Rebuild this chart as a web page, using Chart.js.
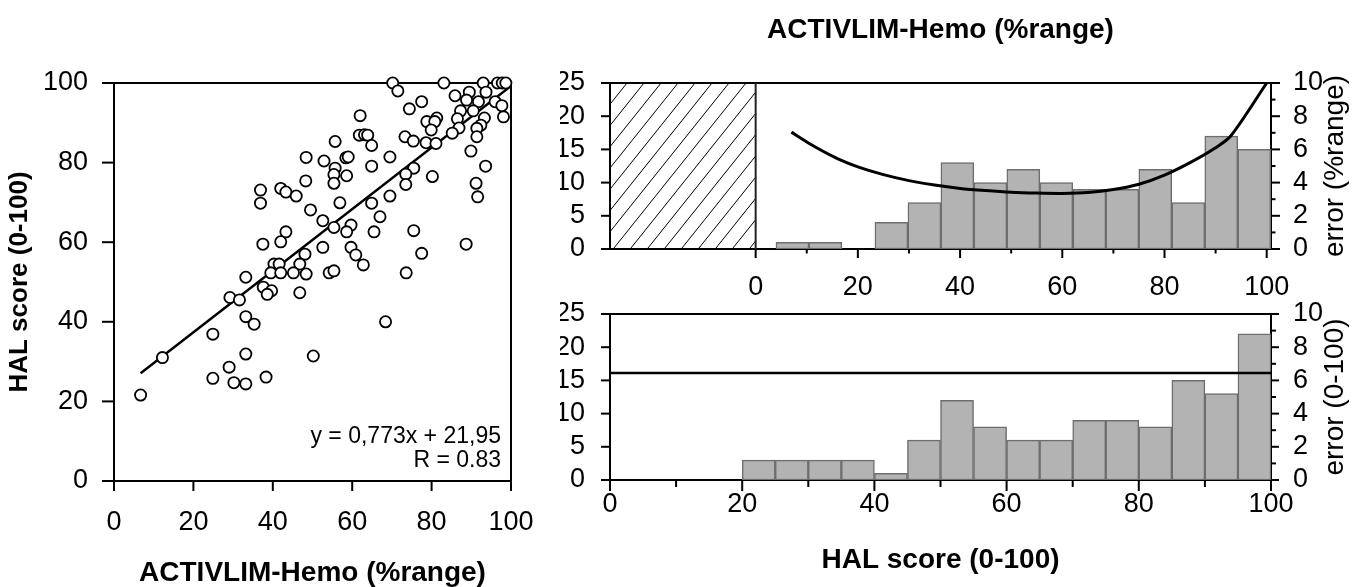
<!DOCTYPE html>
<html>
<head>
<meta charset="utf-8">
<script src="https://cdn.jsdelivr.net/npm/chart.js@4.4.1/dist/chart.umd.min.js"></script>
<style>
html, body {margin: 0; padding: 0; background: #fff; overflow: hidden;}
#wrap {position: relative; width: 1357px; height: 587px;}
canvas {position: absolute; top: 0;}
#scatter {left: 0;}
#histTop, #histBottom {left: 560px;}
</style>
</head>
<body>
<div id="wrap">
  <canvas id="scatter" width="560" height="587"></canvas>
  <canvas id="histBottom" width="797" height="587"></canvas>
  <canvas id="histTop" width="797" height="587"></canvas>
</div>
<script>
//scatter: one point per patient, ACTIVLIM-Hemo (%range) against HAL score (0-100)
const activlim = [
  70.2, 71.5, 83.1, 93.0, 96.6, 97.8, 98.7,
  77.5, 74.4, 85.9, 89.5, 93.7, 88.8, 91.8, 96.0, 97.7, 98.1, 87.3, 90.5, 86.5, 93.3, 81.3, 78.8, 80.8,
  79.9, 92.4, 91.4, 91.4, 86.9, 85.2, 89.9, 93.6, 91.2, 91.6, 88.7,
  62.0, 61.8, 63.1, 63.9, 64.9, 73.3, 75.4, 78.6, 81.1, 55.7, 52.9, 55.7, 55.4, 55.4, 58.4, 59.0, 58.6,
  64.9, 69.5, 75.5, 73.5, 73.5, 80.2, 69.5, 64.9, 56.9, 67.0, 52.6, 55.4, 59.7, 58.6, 65.5, 75.5, 52.6,
  59.7, 60.9, 77.5, 62.8, 73.6, 54.2, 55.4, 68.4,
  48.4, 48.3, 36.9, 36.9, 42.0, 43.3, 45.9, 49.5, 43.3, 42.0, 37.5, 48.1, 40.3, 41.6, 46.8, 39.5, 42.0,
  45.2, 48.4, 33.2, 37.6, 39.7, 38.6, 46.8, 29.2, 31.6, 33.2, 35.3, 24.9, 12.2, 33.2, 50.2, 29.0, 24.9,
  30.2, 33.2, 38.3, 6.7
]
const halScore = [
  100, 98.0, 100, 100, 100, 100, 100,
  95.3, 93.5, 96.8, 97.7, 97.7, 95.7, 95.3, 95.3, 94.3, 91.5, 93.0, 93.0, 91.0, 91.2, 91.2, 90.3, 90.3,
  88.2, 89.4, 88.6, 86.5, 88.7, 87.4, 82.9, 79.1, 74.8, 71.4, 59.5,
  91.8, 86.9, 87.0, 86.9, 84.3, 86.5, 85.4, 85.0, 84.8, 85.3, 80.4, 78.6, 77.0, 74.8, 81.2, 81.4, 76.7,
  79.1, 81.4, 78.6, 77.1, 74.5, 76.5, 71.6, 69.8, 69.9, 66.4, 65.4, 63.7, 64.3, 62.6, 62.6, 62.9, 58.7,
  58.7, 56.8, 57.2, 54.3, 52.3, 52.3, 52.8, 40.0,
  81.3, 75.4, 73.1, 69.8, 73.5, 72.6, 71.6, 68.1, 62.6, 60.1, 59.5, 57.0, 54.5, 54.5, 54.5, 52.3, 52.3,
  52.3, 52.0, 51.2, 48.7, 47.8, 46.9, 47.3, 46.1, 45.5, 41.3, 39.4, 36.9, 31.0, 31.9, 31.4, 28.6, 25.8,
  24.7, 24.4, 26.1, 21.6
]
//regression line end points, y = 0,773x + 21,95
const fitX = [6.7, 100]
const fitY = [27.1, 99.25]
const fitEquation = 'y = 0,773x + 21,95'
const fitR = 'R = 0.83'
const scatterTicks = [0, 20, 40, 60, 80, 100]

//top histogram: patients per ACTIVLIM-Hemo bin, and the measurement error curve
const topBinCenters = [7.20, 13.65, 20.11, 26.56, 33.02, 39.47, 45.93, 52.38, 58.84, 65.30, 71.75, 78.20, 84.66, 91.11, 97.57]
const topCounts = [1, 1, 0, 4, 7, 13, 10, 12, 10, 9, 9, 12, 7, 17, 15]
const errTopX = [7, 10, 13, 16, 20, 25, 30, 35, 40, 45, 50, 55, 60, 65, 70, 75, 80, 85, 90, 93, 100]
const errTopY = [7.04, 6.45, 5.92, 5.45, 4.95, 4.48, 4.12, 3.85, 3.65, 3.52, 3.42, 3.37, 3.35, 3.4, 3.58, 3.9, 4.45, 5.2, 6.1, 6.82, 10]
const topXMin = -28.5 //hatched part of the axis, below 0 %range
const unusedEnd = 0

//bottom histogram: patients per HAL score bin, constant error
const bottomBinCenters = [22.5, 27.5, 32.5, 37.5, 42.5, 47.5, 52.5, 57.5, 62.5, 67.5, 72.5, 77.5, 82.5, 87.5, 92.5, 97.5]
const bottomCounts = [3, 3, 3, 3, 1, 6, 12, 8, 6, 6, 9, 9, 8, 15, 13, 22]
const errBottomX = [0, 100]
const errBottomY = [6.45, 6.45]

const histXLabels = [0, 20, 40, 60, 80, 100]
const histXMinor = [10, 30, 50, 70, 90]
const countTicks = [0, 5, 10, 15, 20, 25]
const errTicks = [0, 2, 4, 6, 8, 10]
const errMinor = [1, 3, 5, 7, 9]

const FONT = "'Liberation Sans', Arial, Helvetica, sans-serif"
Chart.defaults.font.family = FONT
Chart.defaults.color = '#000'
Chart.defaults.animation = false

const TICK_FONT = {size: 27}
const TITLE_FONT = {size: 28, weight: 'bold', lineHeight: 1.0}
const BORDER = {display: true, color: '#000', width: 2}
const NO_GRID = {display: false, drawTicks: false}

const pts = (xs, ys) => xs.map((x, i) => ({x, y: ys[i]}))
//the layout is pinned by giving every axis box a fixed thickness
const fixSize = px => s => { if (s.isHorizontal()) s.height = px; else s.width = px }
const setTicks = values => s => { s.ticks = values.map(v => ({value: v})) }

function axis(pos, min, max, size, labels, padding, extra) {
    return Object.assign({
        type: 'linear', position: pos, min, max, offset: false, z: 1,
        afterFit: fixSize(size),
        afterBuildTicks: labels ? setTicks(labels) : undefined,
        grid: NO_GRID, border: BORDER,
        ticks: labels ? {font: TICK_FONT, padding, autoSkip: false, maxRotation: 0} : {display: false}
    }, extra || {})
}

//Chart.js has one tickLength per axis; the figure mixes long and short marks
function tickMarks(specs) {
    return {
        id: 'tickMarks',
        afterDraw(chart) {
            const ctx = chart.ctx
            ctx.save()
            ctx.strokeStyle = '#000'
            ctx.lineWidth = 2
            specs.forEach(sp => {
                const s = chart.scales[sp.scale]
                const marks = sp.major.map(v => [v, sp.len]).concat((sp.minor || []).map(v => [v, sp.minorLen]))
                marks.forEach(([v, len]) => {
                    const p = s.getPixelForValue(v)
                    ctx.beginPath()
                    if (s.position === 'bottom') { ctx.moveTo(p, s.top); ctx.lineTo(p, s.top + len) }
                    else if (s.position === 'left') { ctx.moveTo(s.right, p); ctx.lineTo(s.right - len, p) }
                    else { ctx.moveTo(s.left, p); ctx.lineTo(s.left + len, p) }
                    ctx.stroke()
                })
            })
            ctx.restore()
        }
    }
}

//right-hand titles read bottom to top, which Chart.js does not do for a right axis
function sideTitle(text, scaleId, offset) {
    return {
        id: 'sideTitle',
        afterDraw(chart) {
            const s = chart.scales[scaleId], ctx = chart.ctx
            ctx.save()
            ctx.font = '28px ' + FONT
            ctx.fillStyle = '#000'
            ctx.textAlign = 'center'
            ctx.textBaseline = 'middle'
            ctx.translate(s.left + offset, (s.top + s.bottom) / 2)
            ctx.rotate(-Math.PI / 2)
            ctx.fillText(text, 0, 0)
            ctx.restore()
        }
    }
}

const hatch = {
    id: 'hatch',
    beforeDatasetsDraw(chart) {
        const {ctx, chartArea: a, scales: {x}} = chart
        const x0 = x.getPixelForValue(x.min), x1 = x.getPixelForValue(unusedEnd)
        const run = (a.bottom - a.top) * 0.8
        ctx.save()
        ctx.beginPath()
        ctx.rect(x0, a.top, x1 - x0, a.bottom - a.top)
        ctx.clip()
        ctx.strokeStyle = '#000'
        ctx.lineWidth = 1
        for (let s = x0 - run; s < x1 + 17; s += 17) {
            ctx.beginPath()
            ctx.moveTo(s, a.bottom)
            ctx.lineTo(s + run, a.top)
            ctx.stroke()
        }
        ctx.restore()
        ctx.save()
        ctx.strokeStyle = '#222'
        ctx.lineWidth = 2
        ctx.beginPath()
        ctx.moveTo(x1, a.top)
        ctx.lineTo(x1, a.bottom)
        ctx.stroke()
        ctx.restore()
    }
}

const fitLabel = {
    id: 'fitLabel',
    afterDraw(chart) {
        const a = chart.chartArea, ctx = chart.ctx
        ctx.save()
        ctx.font = '23px ' + FONT
        ctx.fillStyle = '#000'
        ctx.textAlign = 'right'
        ctx.textBaseline = 'middle'
        ctx.fillText(fitEquation, a.right - 10, a.bottom - 44)
        ctx.fillText(fitR, a.right - 10, a.bottom - 20)
        ctx.restore()
    }
}

const quiet = {legend: {display: false}, tooltip: {enabled: false}}

new Chart(document.getElementById('scatter'), {
    type: 'scatter',
    data: {
        datasets: [
            {type: 'scatter', data: pts(activlim, halScore), order: 0, clip: false,
             pointRadius: 5.6, pointBorderWidth: 1.8, pointBorderColor: '#000', pointBackgroundColor: '#fff'},
            {type: 'line', data: pts(fitX, fitY), order: 1, borderColor: '#000', borderWidth: 2.5, pointRadius: 0}
        ]
    },
    options: {
        responsive: false,
        layout: {padding: 0},
        plugins: quiet,
        scales: {
            x: axis('bottom', 0, 100, 106, scatterTicks, 25, {z: 0,
                title: {display: true, text: 'ACTIVLIM-Hemo (%range)', font: TITLE_FONT, padding: 0}}),
            y: axis('left', 0, 100, 114, scatterTicks, 26, {z: 0,
                title: {display: true, text: 'HAL score (0-100)', font: {size: 26, weight: 'bold', lineHeight: 1.0},
                        padding: {top: 7, bottom: 0}}}),
            x2: axis('top', 0, 100, 83, null, 0, {z: 0}),
            y2: axis('right', 0, 100, 49, null, 0, {z: 0})
        }
    },
    plugins: [tickMarks([
        {scale: 'x', major: scatterTicks, len: 10},
        {scale: 'y', major: scatterTicks, len: 12}
    ]), fitLabel]
})

const barStyle = {backgroundColor: '#b3b3b3', borderColor: '#6e6e6e', borderWidth: 1.5,
    borderSkipped: false, barPercentage: 1, categoryPercentage: 1, order: 1}

new Chart(document.getElementById('histTop'), {
    type: 'bar',
    data: {
        datasets: [
            Object.assign({type: 'bar', data: pts(topBinCenters, topCounts), xAxisID: 'x', yAxisID: 'y'}, barStyle),
            {type: 'line', data: pts(errTopX, errTopY), xAxisID: 'x', yAxisID: 'y2', order: 0, clip: false,
             borderColor: '#000', borderWidth: 3, pointRadius: 0, tension: 0.3}
        ]
    },
    options: {
        responsive: false,
        layout: {padding: 0},
        plugins: quiet,
        scales: {
            x: axis('bottom', topXMin, 100.84, 338, histXLabels, 22),
            x2: axis('top', topXMin, 100.84, 83, null, 0, {
                title: {display: true, text: 'ACTIVLIM-Hemo (%range)', font: TITLE_FONT, padding: {top: 16, bottom: 0}}}),
            y: axis('left', 0, 25, 50, countTicks, 25),
            y2: axis('right', 0, 10, 86, errTicks, 22)
        }
    },
    plugins: [tickMarks([
        {scale: 'x', major: histXLabels, len: 9, minor: histXMinor, minorLen: 4.5},
        {scale: 'y', major: countTicks, len: 9},
        {scale: 'y2', major: errTicks, len: 9, minor: errMinor, minorLen: 4.5}
    ]), sideTitle('error (%range)', 'y2', 64), hatch]
})

new Chart(document.getElementById('histBottom'), {
    type: 'bar',
    data: {
        datasets: [
            Object.assign({type: 'bar', data: pts(bottomBinCenters, bottomCounts), xAxisID: 'x', yAxisID: 'y'}, barStyle),
            {type: 'line', data: pts(errBottomX, errBottomY), xAxisID: 'x', yAxisID: 'y2', order: 0,
             borderColor: '#000', borderWidth: 2.5, pointRadius: 0}
        ]
    },
    options: {
        responsive: false,
        layout: {padding: 0},
        plugins: quiet,
        scales: {
            x: axis('bottom', 0, 100, 107, histXLabels, 8, {
                title: {display: true, text: 'HAL score (0-100)', font: TITLE_FONT, padding: {top: 0, bottom: 13}}}),
            x2: axis('top', 0, 100, 314, null, 0),
            y: axis('left', 0, 25, 50, countTicks, 25),
            y2: axis('right', 0, 10, 86, errTicks, 22)
        }
    },
    plugins: [tickMarks([
        {scale: 'x', major: histXLabels, len: 11, minor: histXMinor, minorLen: 7},
        {scale: 'y', major: countTicks, len: 9},
        {scale: 'y2', major: errTicks, len: 8, minor: errMinor, minorLen: 5}
    ]), sideTitle('error (0-100)', 'y2', 64)]
})
</script>
</body>
</html>
